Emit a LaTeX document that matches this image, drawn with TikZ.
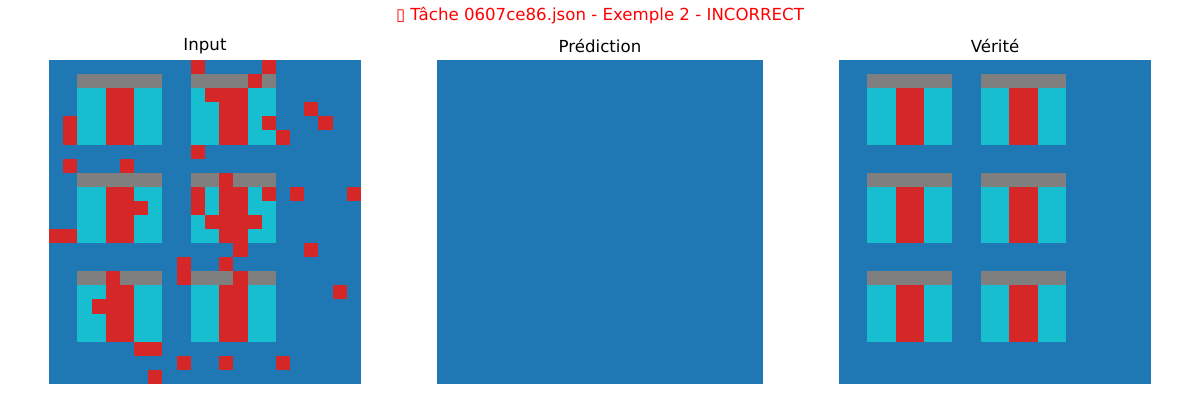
\documentclass[tikz,border=0pt]{standalone}
\usepackage{fontspec}
\setmainfont{DejaVu Sans}
\definecolor{gblue}{HTML}{1F77B4}
\definecolor{gred}{HTML}{D62728}
\definecolor{gcyan}{HTML}{17BECF}
\definecolor{ggray}{HTML}{7F7F7F}
\newcommand{\cw}{14.18}
\newcommand{\ch}{14.087}
% trois rangees de deux blocs (gris, cyan, rouge)
\newcommand{\blocs}{%
  \foreach \br in {1,8,15} {
    \foreach \bc in {2,10} {
      \fill[ggray] ({\bc*\cw},{\br*\ch}) rectangle ++({6*\cw},\ch);
      \fill[gcyan] ({\bc*\cw},{(\br+1)*\ch}) rectangle ++({6*\cw},{4*\ch});
      \fill[gred] ({(\bc+2)*\cw},{(\br+1)*\ch}) rectangle ++({2*\cw},{4*\ch});
    }
  }}

\begin{document}
\begin{tikzpicture}[x=0.01in, y=-0.01in, font=\fontsize{12}{14}\selectfont]
		\useasboundingbox (0,0) rectangle (1200,400);
		\node[text=red] (titre) at (600,16) {▯ Tâche 0607ce86.json - Exemple 2 - INCORRECT};
		% entree
		\node (input) at (205,46) {Input};
		\begin{scope}[shift={(49,60)}]
			\fill[gblue] (0,0) rectangle ({22*\cw},{23*\ch});
			\blocs
			\foreach \r/\c in {0/10,0/15,1/14,2/11,3/18,4/1,4/15,4/19,5/1,5/16,6/10,7/1,7/5,
				8/12,9/10,9/15,9/17,9/21,10/6,10/10,11/11,11/14,12/0,12/1,13/13,13/18,
				14/9,14/12,15/4,15/9,15/13,16/20,17/3,20/6,20/7,21/9,21/12,21/16,22/7}
				\fill[gred] ({\c*\cw},{\r*\ch}) rectangle ++(\cw,\ch);
		\end{scope}
		% prediction
		\node (pred) at (600,46) {Prédiction};
		\fill[gblue] (437,60) rectangle (763,384);
		% verite
		\node (verite) at (995,46) {Vérité};
		\begin{scope}[shift={(839,60)}]
			\fill[gblue] (0,0) rectangle ({22*\cw},{23*\ch});
			\blocs
		\end{scope}
	\end{tikzpicture}
\end{document}
